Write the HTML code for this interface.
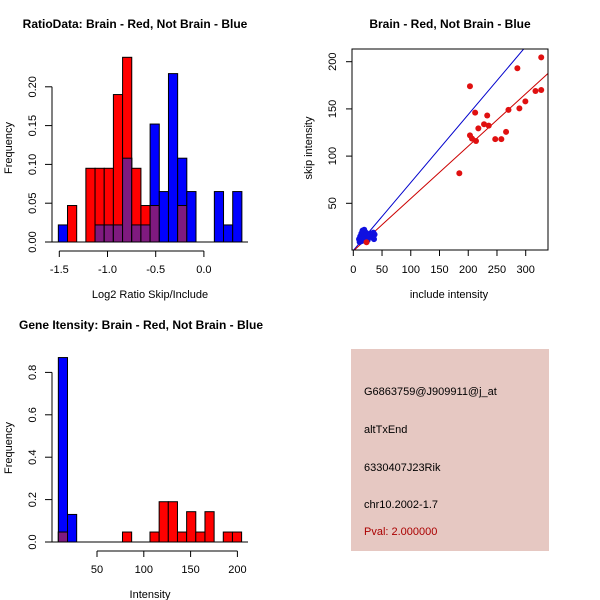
<!DOCTYPE html>
<html><head><meta charset="utf-8"><style>
html,body{margin:0;padding:0;background:#fff;}
svg{display:block;font-family:"Liberation Sans",sans-serif;}
</style></head><body>
<svg id="c" width="600" height="600" viewBox="0 0 600 600">
<rect width="600" height="600" fill="#fff"/>
<g id="p1"></g>
<g id="p2"></g>
<g id="p3"></g>
<g id="p4">
<rect x="351" y="349" width="198" height="202" fill="#e6c8c2"/>
<text x="364" y="395" font-size="11">G6863759@J909911@j_at</text>
<text x="364" y="433" font-size="11">altTxEnd</text>
<text x="364" y="471" font-size="11">6330407J23Rik</text>
<text x="364" y="508" font-size="11">chr10.2002-1.7</text>
<text x="364" y="535" font-size="11" fill="#aa0000">Pval: 2.000000</text>
</g>
</svg>
<script>
// Plot 1 data
const p1Start = -1.51, p1Step = 0.0952;
const p1Red  = [0,0.047,0,0.095,0.095,0.095,0.19,0.238,0.095,0.047,0.047,0,0,0.047,0,0,0,0,0,0];
const p1Blue = [0.022,0,0,0,0.022,0.022,0.022,0.108,0.022,0.022,0.152,0.065,0.217,0.108,0.065,0,0,0.065,0.022,0.065];
const p1XTicks = [-1.5,-1.0,-0.5,0.0];
const p1XLabels = ["-1.5","-1.0","-0.5","0.0"];
const p1YTicks = [0,0.05,0.10,0.15,0.20];
const p1YLabels = ["0.00","0.05","0.10","0.15","0.20"];
// Plot 2 data
const redX = [203,327,285.5,327,317,299.4,289,270,212,233,227.5,235.6,217.6,265.8,203,206.6,213.5,247,257.6,184.5,23];
const redY = [174,204.6,193,170,169,158,150.6,149,146,143,133.7,132.3,129.4,125.7,122,118.5,116,118,118,81.8,8.8];
const blueX = [10,12,14,15,17,18,19,20,21,22,24,26,28,30,33,36,37,16,13,25,11,35];
const blueY = [12,15,18,10,20,14,22,17,12,19,16,13,15,18,14,12,17,21,10,11,9,19];
const blueSlope = 0.72, blueIntercept = 0;
const redSlope = 0.555, redIntercept = -0.5;
const p2XTicks = [0,50,100,150,200,250,300];
const p2YTicks = [50,100,150,200];
// Plot 3 data
const p3Start = 8.7, p3Step = 9.79;
const p3Red  = [0.047,0,0,0,0,0,0,0.047,0,0,0.047,0.19,0.19,0.047,0.143,0.047,0.143,0,0.047,0.047];
const p3Blue = [0.87,0.13,0,0,0,0,0,0,0,0,0,0,0,0,0,0,0,0,0,0];
const p3XTicks = [50,100,150,200];
const p3YTicks = [0,0.2,0.4,0.6,0.8];
const p3YLabels = ["0.0","0.2","0.4","0.6","0.8"];

const NS="http://www.w3.org/2000/svg";
function mk(parent,tag,attrs,txt){const e=document.createElementNS(NS,tag);for(const k in attrs)e.setAttribute(k,attrs[k]);if(txt!==undefined)e.textContent=txt;parent.appendChild(e);return e;}

function histPlot(g,o){
  const sx=v=>o.x0px+(v-o.x0)*o.kx, sy=v=>o.y0px-v*o.ky;
  for(let i=0;i<o.red.length;i++){
    const l=sx(o.start+i*o.step), r=sx(o.start+(i+1)*o.step);
    const layers=[["#0000ff",o.blue[i],"bar-blue"],["#ff0000",o.red[i],"bar-red"],["#7f1a7f",Math.min(o.red[i],o.blue[i]),"bar-overlap"]];
    for(const L of layers){ if(L[1]<=0) continue;
      const e=mk(g,"rect",{x:l,y:sy(L[1]),width:r-l,height:sy(0)-sy(L[1]),fill:L[0],stroke:"#000","stroke-width":1});
      
      
    }
  }
  mk(g,"line",{x1:52,x2:248,y1:sy(0),y2:sy(0),stroke:"#000"});
  // y axis
  const yt=o.yTicks;
  mk(g,"line",{x1:52,x2:52,y1:sy(yt[0]),y2:sy(yt[yt.length-1]),stroke:"#000"});
  yt.forEach((t,i)=>{const y=sy(t);mk(g,"line",{x1:45,x2:52,y1:y,y2:y,stroke:"#000"});
    const tx=mk(g,"text",{x:36,y:y,"font-size":11,"text-anchor":"middle",transform:`rotate(-90 36 ${y})`},o.yLabels[i]);
    });
  const ay=o.axisY, xt=o.xTicks;
  mk(g,"line",{x1:sx(xt[0]),x2:sx(xt[xt.length-1]),y1:ay,y2:ay,stroke:"#000"});
  xt.forEach((t,i)=>{const x=sx(t);mk(g,"line",{x1:x,x2:x,y1:ay,y2:ay+6,stroke:"#000"});
    const tx=mk(g,"text",{x:x,y:ay+22,"font-size":11,"text-anchor":"middle"},o.xLabels[i]);
    });
  const t=mk(g,"text",{x:o.titleX,y:o.titleY,"font-size":12,"font-weight":"bold","text-anchor":"middle"},o.title);
  
  const xl=mk(g,"text",{x:150,y:o.xlabY,"font-size":11,"text-anchor":"middle"},o.xlab);
  
  const yl=mk(g,"text",{x:12,y:o.ylabY,"font-size":11,"text-anchor":"middle",transform:`rotate(-90 12 ${o.ylabY})`},"Frequency");
  
}

histPlot(document.getElementById("p1"),{start:p1Start,step:p1Step,red:p1Red,blue:p1Blue,
  x0:-1.5,x0px:59.3,kx:96.4,y0px:242,ky:776,yTicks:p1YTicks,yLabels:p1YLabels,
  xTicks:p1XTicks,xLabels:p1XLabels,axisY:251,title:"RatioData: Brain - Red, Not Brain - Blue",
  titleX:135,titleY:28,xlab:"Log2 Ratio Skip/Include",xlabY:298,ylabY:148});

histPlot(document.getElementById("p3"),{start:p3Start,step:p3Step,red:p3Red,blue:p3Blue,
  x0:0,x0px:50.2,kx:0.936,y0px:542,ky:212,yTicks:p3YTicks,yLabels:p3YLabels,
  xTicks:p3XTicks,xLabels:p3XTicks.map(String),axisY:551,title:"Gene Itensity: Brain - Red, Not Brain - Blue",
  titleX:141,titleY:329,xlab:"Intensity",xlabY:598,ylabY:448});

// scatter
(function(){
  const g=document.getElementById("p2");
  const L=352,R=548,T=49,B=250;
  const sx=v=>353.3+v*0.5747, sy=v=>250.5-v*0.944;
  mk(g,"defs",{}).innerHTML='<clipPath id="cl"><rect x="352" y="49" width="196" height="201"/></clipPath>';
  const cg=mk(g,"g",{"clip-path":"url(#cl)"});
  const lb=mk(cg,"line",{x1:sx(0),y1:sy(blueIntercept),x2:sx(400),y2:sy(blueIntercept+400*blueSlope),stroke:"#0000cc","stroke-width":1});
  
  const lr=mk(cg,"line",{x1:sx(0),y1:sy(redIntercept),x2:sx(400),y2:sy(redIntercept+400*redSlope),stroke:"#cc0000","stroke-width":1});
  
  blueX.forEach((x,i)=>{const c=mk(cg,"circle",{cx:sx(x),cy:sy(blueY[i]),r:3,fill:"#1010e0"});
    });
  redX.forEach((x,i)=>{const c=mk(cg,"circle",{cx:sx(x),cy:sy(redY[i]),r:3,fill:"#e01010"});
    });
  mk(g,"rect",{x:L,y:T,width:R-L,height:B-T,fill:"none",stroke:"#000"});
  p2XTicks.forEach(t=>{const x=sx(t);mk(g,"line",{x1:x,x2:x,y1:B,y2:B+6,stroke:"#000"});
    const tx=mk(g,"text",{x:x,y:273,"font-size":11,"text-anchor":"middle"},String(t));
    });
  p2YTicks.forEach(t=>{const y=sy(t);mk(g,"line",{x1:L-6,x2:L,y1:y,y2:y,stroke:"#000"});
    const tx=mk(g,"text",{x:336,y:y,"font-size":11,"text-anchor":"middle",transform:`rotate(-90 336 ${y})`},String(t));
    });
  const t=mk(g,"text",{x:450,y:28,"font-size":12,"font-weight":"bold","text-anchor":"middle"},"Brain - Red, Not Brain - Blue");
  
  const xl=mk(g,"text",{x:449,y:298,"font-size":11,"text-anchor":"middle"},"include intensity");
  
  const yl=mk(g,"text",{x:312,y:148,"font-size":11,"text-anchor":"middle",transform:"rotate(-90 312 148)"},"skip intensity");
  
})();
</script>
</body></html>
